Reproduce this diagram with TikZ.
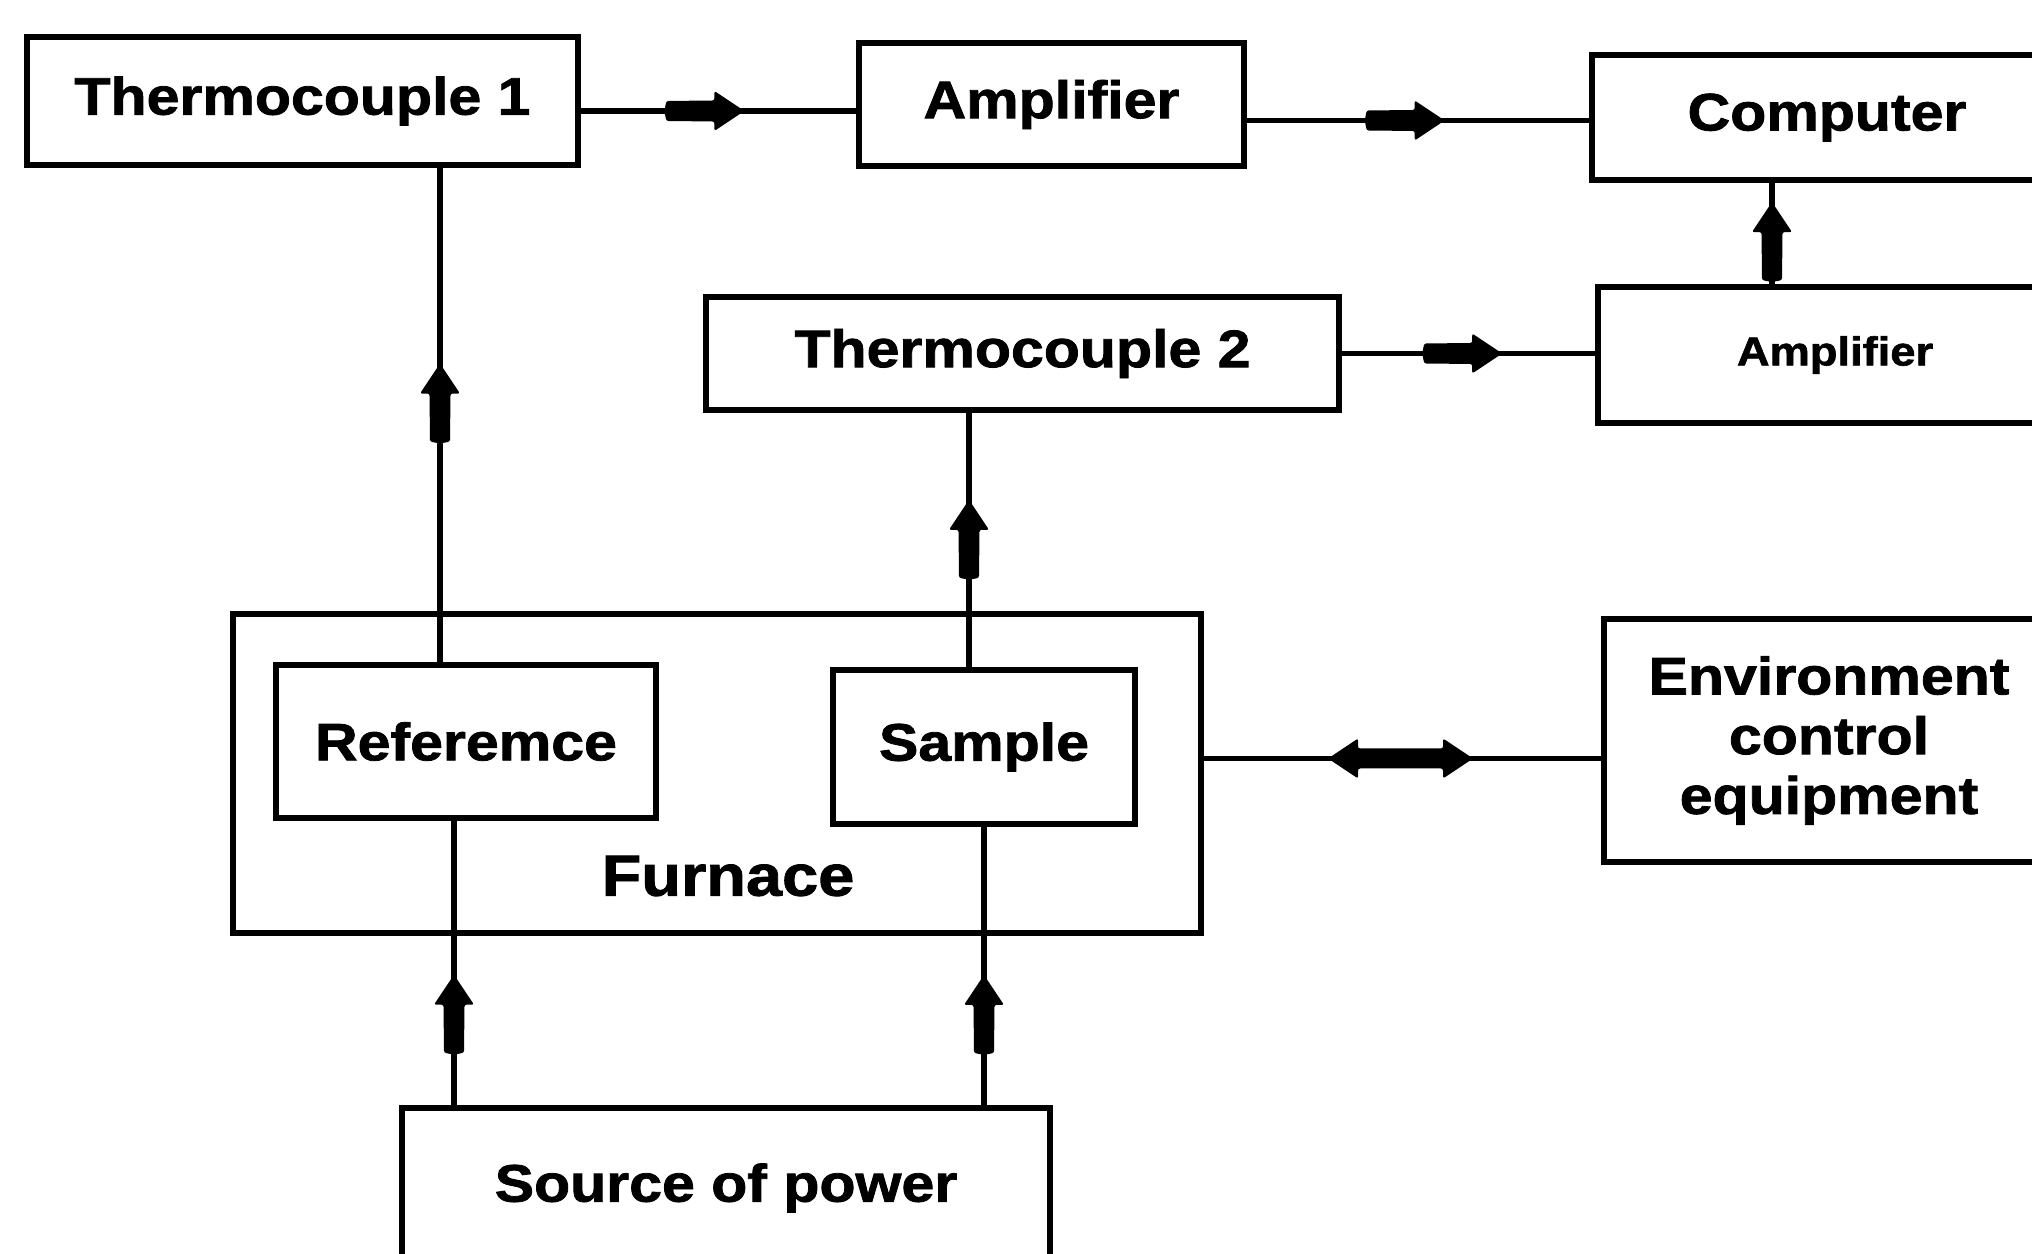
\documentclass[tikz,border=0pt]{standalone}
\usepackage{fontspec}
\setmainfont{Liberation Sans}[FakeStretch=1.12,BoldFeatures={FakeBold=1.5}]
\usepackage{tikz}
\usetikzlibrary{arrows.meta,positioning,calc,decorations.markings}
\newcommand{\boxsize}{\fontsize{15pt}{17pt}\selectfont}
% fat arrow drawn on a line, tip at the mark
\newcommand{\fathead}{\fill[rounded corners=0.6pt] (0,0) -- (-0.3,0.2) -- (-0.3,0.105) -- (-0.78,0.1) -- (-0.8,0) -- (-0.78,-0.1) -- (-0.3,-0.105) -- (-0.3,-0.2) -- cycle;}
% two-headed version, centred on the mark
\newcommand{\fatboth}{\fill[rounded corners=0.6pt] (0.725,0) -- (0.425,0.2) -- (0.425,0.1) -- (-0.425,0.1) -- (-0.425,0.2) -- (-0.725,0) -- (-0.425,-0.2) -- (-0.425,-0.1) -- (0.425,-0.1) -- (0.425,-0.2) -- cycle;}
\tikzset{
  block/.style={draw, line width=1.6pt, inner sep=0pt, align=center, font=\boxsize\bfseries},
  link/.style={line width=1.5pt},
  fatmark/.style={postaction={decorate,decoration={markings,mark=at position #1 with {\fathead}}}},
  bothmark/.style={postaction={decorate,decoration={markings,mark=at position #1 with {\fatboth}}}},
}
\begin{document}
\begin{tikzpicture}
\useasboundingbox (0,0) rectangle (20.32,-12.54);
% ---------------- top row ----------------
\node[block, minimum width=5.51cm, minimum height=1.28cm] (tc1) at (3.025,-1.01) {Thermocouple 1};
\node[block, minimum width=3.85cm, minimum height=1.23cm] (amp1) at (10.515,-1.045) {Amplifier};
\node[block, minimum width=4.70cm, minimum height=1.25cm] (comp) at (18.27,-1.175) {Computer};
% ---------------- second row ----------------
\node[block, minimum width=6.33cm, minimum height=1.13cm] (tc2) at (10.225,-3.535) {Thermocouple 2};
\node[block, minimum width=4.74cm, minimum height=1.36cm, font=\fontsize{11.5pt}{13pt}\selectfont\bfseries] (amp2) at (18.35,-3.55) {Amplifier};
% ---------------- furnace ----------------
\node[block, minimum width=9.68cm, minimum height=3.19cm] (furnace) at (7.17,-7.735) {};
\node[font=\fontsize{16.5pt}{18pt}\selectfont\bfseries] (furnlabel) at (7.28,-8.76) {Furnace};
\node[block, minimum width=3.80cm, minimum height=1.53cm] (ref) at (4.66,-7.415) {Referemce};
\node[block, minimum width=3.02cm, minimum height=1.54cm] (sample) at (9.84,-7.47) {Sample};
\node[block, minimum width=4.50cm, minimum height=2.43cm] (env) at (18.29,-7.405) {Environment\\control\\equipment};
\node[block, minimum width=6.48cm, minimum height=1.60cm] (source) at (7.26,-11.88) {Source of power};
% ---------------- connectors ----------------
\draw[link, fatmark=0.594] ([yshift=-0.1cm]tc1.east) -- ([yshift=-0.1cm]tc1.east -| amp1.west);
\draw[link, fatmark=0.578] ([yshift=-0.16cm]amp1.east) -- ([yshift=-0.16cm]amp1.east -| comp.west);
\draw[link, fatmark=0.633] (tc2.east) -- (tc2.east -| amp2.west);
\draw[link, fatmark=0.81] ([xshift=-0.63cm]amp2.north) -- ([xshift=-0.63cm]amp2.north |- comp.south);
\draw[link, fatmark=0.604] ([xshift=-0.26cm]ref.north) -- ([xshift=-0.26cm]ref.north |- tc1.south);
\draw[link, fatmark=0.658] ([xshift=-0.15cm]sample.north) -- ([xshift=-0.15cm]sample.north |- tc2.south);
\draw[link, fatmark=0.459] ([xshift=-0.12cm]ref.south |- source.north) -- ([xshift=-0.12cm]ref.south);
\draw[link, fatmark=0.468] (sample.south |- source.north) -- (sample.south);
\draw[link, bothmark=0.495] ([yshift=-0.18cm]env.west -| furnace.east) -- ([yshift=-0.18cm]env.west);
\end{tikzpicture}
\end{document}
